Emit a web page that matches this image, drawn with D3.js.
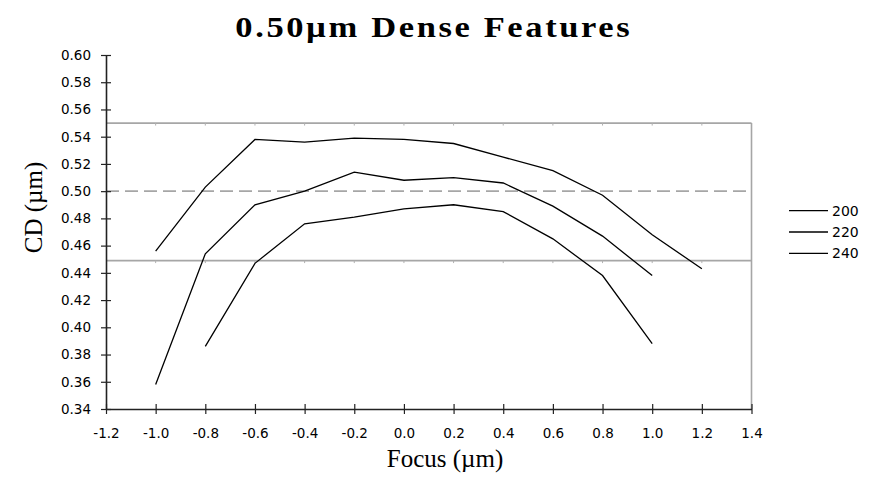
<!DOCTYPE html>
<html>
<head>
<meta charset="utf-8">
<script src="https://cdn.jsdelivr.net/npm/d3@7"></script>
<style>
  body { margin: 0; background: #fff; }
  text { fill: #000; }
</style>
</head>
<body>
<div id="chart"></div>
<script>
// focus values (um) for each series
var focus200 = [-1.0, -0.8, -0.6, -0.4, -0.2, 0.0, 0.2, 0.4, 0.6, 0.8, 1.0, 1.2];
var focus220 = [-1.0, -0.8, -0.6, -0.4, -0.2, 0.0, 0.2, 0.4, 0.6, 0.8, 1.0];
var focus240 = [-0.8, -0.6, -0.4, -0.2, 0.0, 0.2, 0.4, 0.6, 0.8, 1.0];

// CD (um)
var cd200 = [0.456, 0.503, 0.538, 0.536, 0.539, 0.538, 0.535, 0.525, 0.515, 0.497, 0.468, 0.443];
var cd220 = [0.358, 0.454, 0.490, 0.500, 0.514, 0.508, 0.510, 0.506, 0.489, 0.467, 0.438];
var cd240 = [0.386, 0.447, 0.476, 0.481, 0.487, 0.490, 0.485, 0.465, 0.438, 0.388];

var seriesNames = ["200", "220", "240"];

var xTicks = [-1.2, -1.0, -0.8, -0.6, -0.4, -0.2, 0.0, 0.2, 0.4, 0.6, 0.8, 1.0, 1.2, 1.4];
var yTicks = [0.34, 0.36, 0.38, 0.40, 0.42, 0.44, 0.46, 0.48, 0.50, 0.52, 0.54, 0.56, 0.58, 0.60];

// spec limits and target
var upperLimit = 0.55;
var lowerLimit = 0.449;
var target = 0.50;

var width = 881,
  height = 477;

var svg = d3
  .select("#chart")
  .append("svg")
  .attr("width", width)
  .attr("height", height);

var x = d3.scaleLinear().domain([-1.2, 1.4]).range([106, 751.5]);
var y = d3.scaleLinear().domain([0.34, 0.6]).range([409, 55]);

// reference lines
var refs = [
  { v: upperLimit, dash: null },
  { v: target, dash: "13,6" },
  { v: lowerLimit, dash: null },
];
svg
  .selectAll(".ref")
  .data(refs)
  .enter()
  .append("line")
  .attr("x1", x(-1.2))
  .attr("x2", x(1.4))
  .attr("y1", function (d) { return y(d.v); })
  .attr("y2", function (d) { return y(d.v); })
  .attr("stroke", "#a6a6a6")
  .attr("stroke-width", 1.6)
  .attr("stroke-dasharray", function (d) { return d.dash; });

// small marks under the solid limit lines
[upperLimit, lowerLimit].forEach(function (v) {
  svg
    .append("g")
    .selectAll("line")
    .data(xTicks.slice(1, -1))
    .enter()
    .append("line")
    .attr("x1", function (d) { return x(d); })
    .attr("x2", function (d) { return x(d); })
    .attr("y1", y(v))
    .attr("y2", y(v) + 2.5)
    .attr("stroke", "#b0b0b0")
    .attr("stroke-width", 1);
});

// right edge line
svg
  .append("line")
  .attr("x1", x(1.4))
  .attr("x2", x(1.4))
  .attr("y1", y(upperLimit))
  .attr("y2", y(0.34))
  .attr("stroke", "#a6a6a6")
  .attr("stroke-width", 1.6);

// plain hyphen for negatives, like the original
var fmt1 = d3.format(".1f");
var fmt2 = d3.format(".2f");

var xAxis = d3
  .axisBottom(x)
  .tickValues(xTicks)
  .tickSizeInner(6)
  .tickSizeOuter(0)
  .tickFormat(function (d) { return fmt1(d).replace("\u2212", "-"); });
var gx = svg
  .append("g")
  .attr("transform", "translate(0," + y(0.34) + ")")
  .call(xAxis);

var yAxis = d3
  .axisLeft(y)
  .tickValues(yTicks)
  .tickSizeInner(6)
  .tickSizeOuter(0)
  .tickFormat(fmt2);
var gy = svg
  .append("g")
  .attr("transform", "translate(" + x(-1.2) + ",0)")
  .call(yAxis);

[gx, gy].forEach(function (g) {
  g.select(".domain").attr("stroke", "#222").attr("stroke-width", 1.6);
  g.selectAll(".tick line").attr("stroke", "#222").attr("stroke-width", 1.2);
  g.selectAll(".tick text")
    .style("font-family", "DejaVu Sans")
    .style("font-size", "13.5px")
    .attr("fill", "#000");
});
// ticks cross the axis line
gx.selectAll(".tick line").attr("y1", -5).attr("y2", 5);
gx.selectAll(".tick text").attr("y", 19);
gy.selectAll(".tick line").attr("x1", 5).attr("x2", -5);
gy.selectAll(".tick text").attr("x", -15);

// series lines
var series = [
  { name: seriesNames[0], xs: focus200, ys: cd200 },
  { name: seriesNames[1], xs: focus220, ys: cd220 },
  { name: seriesNames[2], xs: focus240, ys: cd240 },
];
var line = d3
  .line()
  .x(function (d) { return x(d[0]); })
  .y(function (d) { return y(d[1]); });

svg
  .selectAll(".series")
  .data(series)
  .enter()
  .append("path")
  .attr("class", "series")
  .attr("fill", "none")
  .attr("stroke", "#000")
  .attr("stroke-width", 1.3)
  .attr("d", function (s) {
    return line(d3.zip(s.xs, s.ys));
  });

// legend
var legend = svg
  .selectAll(".legend")
  .data(series)
  .enter()
  .append("g")
  .attr("class", "legend")
  .attr("transform", function (d, i) {
    return "translate(789," + (210.7 + i * 21.3) + ")";
  });
legend
  .append("line")
  .attr("x1", 0)
  .attr("x2", 39)
  .attr("stroke", "#000")
  .attr("stroke-width", 1.3);
legend
  .append("text")
  .attr("x", 43)
  .attr("y", 5)
  .style("font-family", "DejaVu Sans")
  .style("font-size", "14px")
  .text(function (d) { return d.name; });

// title: bold serif, slightly stretched and spaced
svg
  .append("text")
  .attr("transform", "translate(432.5,37) scale(1.15,1)")
  .attr("text-anchor", "middle")
  .attr("textLength", 343)
  .attr("lengthAdjust", "spacing")
  .style("font-family", "Liberation Serif")
  .style("font-weight", "bold")
  .style("font-size", "30px")
  .text("0.50\u00b5m Dense Features");

svg
  .append("text")
  .attr("x", 445)
  .attr("y", 466.5)
  .attr("text-anchor", "middle")
  .style("font-family", "Liberation Serif")
  .style("font-size", "25px")
  .text("Focus (\u00b5m)");

svg
  .append("text")
  .attr("transform", "translate(42,207.5) rotate(-90)")
  .attr("text-anchor", "middle")
  .style("font-family", "Liberation Serif")
  .style("font-size", "25px")
  .text("CD (\u00b5m)");
</script>
</body>
</html>
